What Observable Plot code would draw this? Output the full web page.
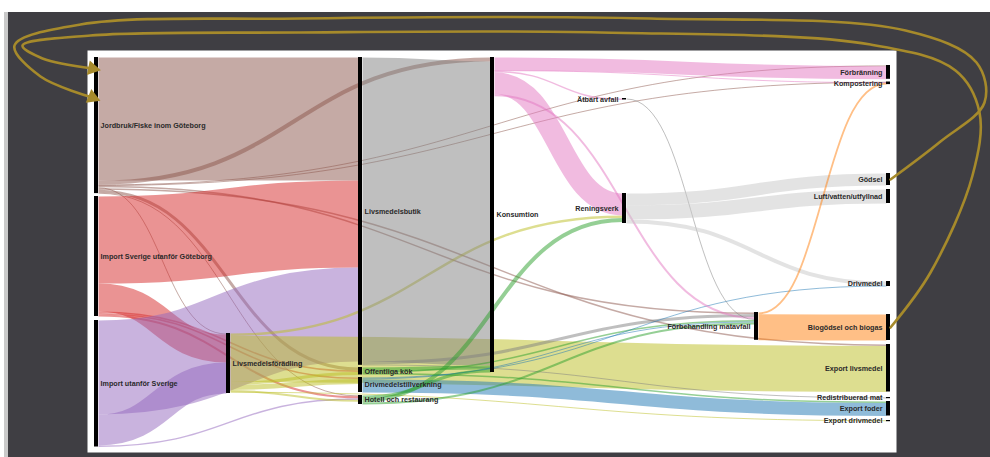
<!DOCTYPE html>
<html><head><meta charset="utf-8">
<script src="https://cdn.jsdelivr.net/npm/d3@7"></script>
<script src="https://cdn.jsdelivr.net/npm/@observablehq/plot@0.6"></script>
<style>
html,body{margin:0;padding:0;background:#fff}
#chart svg{display:block}
</style></head><body><div id="chart"></div>
<script>
// ---------- DATA ----------
const nodeNames = ["Jordbruk/Fiske inom Göteborg","Import Sverige utanför Göteborg","Import utanför Sverige",
  "Livsmedelsförädling","Livsmedelsbutik","Offentliga kök","Drivmedelstillverkning","Hotell och restaurang",
  "Konsumtion","Ätbart avfall","Reningsverk","Förbehandling matavfall","Förbränning","Kompostering","Gödsel",
  "Luft/vatten/utfyllnad","Drivmedel","Biogödsel och biogas","Export livsmedel","Redistribuerad mat","Export foder","Export drivmedel"];
const nodeColumns = [0,0,0,1,2,2,2,2,3,4,4,5,6,6,6,6,6,6,6,6,6,6];
// layout: vertical offset of each node's top, in flow units
const nodeTops = [7,146,270,283,7,317,327,345,7,48,143,262,15,31.5,123,139,231,264,294,347,351,370];
const nodeColors = ["#8c564b","#d62728","#9467bd","#bcbd22","#7f7f7f","#2ca02c","#1f77b4","#2ca02c",
  "#e377c2","#7f7f7f","#c7c7c7","#ff7f0e","#17becf","#17becf","#17becf","#17becf","#17becf","#17becf","#17becf","#17becf","#17becf","#17becf"];

const linkSources = [
  "Jordbruk/Fiske inom Göteborg","Jordbruk/Fiske inom Göteborg","Jordbruk/Fiske inom Göteborg","Jordbruk/Fiske inom Göteborg",
  "Jordbruk/Fiske inom Göteborg","Jordbruk/Fiske inom Göteborg","Jordbruk/Fiske inom Göteborg","Jordbruk/Fiske inom Göteborg","Jordbruk/Fiske inom Göteborg",
  "Import Sverige utanför Göteborg","Import Sverige utanför Göteborg","Import Sverige utanför Göteborg","Import Sverige utanför Göteborg","Import Sverige utanför Göteborg",
  "Import utanför Sverige","Import utanför Sverige","Import utanför Sverige",
  "Livsmedelsförädling","Livsmedelsförädling","Livsmedelsförädling","Livsmedelsförädling","Livsmedelsförädling","Livsmedelsförädling",
  "Livsmedelsbutik","Livsmedelsbutik","Livsmedelsbutik",
  "Offentliga kök","Offentliga kök","Offentliga kök",
  "Drivmedelstillverkning","Drivmedelstillverkning","Drivmedelstillverkning",
  "Hotell och restaurang","Hotell och restaurang","Hotell och restaurang",
  "Konsumtion","Konsumtion","Konsumtion","Konsumtion","Konsumtion",
  "Ätbart avfall",
  "Reningsverk","Reningsverk","Reningsverk",
  "Förbehandling matavfall","Förbehandling matavfall"];
const linkTargets = [
  "Livsmedelsbutik","Konsumtion","Förbränning","Kompostering","Förbehandling matavfall","Livsmedelsförädling","Export livsmedel","Offentliga kök","Hotell och restaurang",
  "Livsmedelsbutik","Livsmedelsförädling","Offentliga kök","Drivmedelstillverkning","Hotell och restaurang",
  "Livsmedelsbutik","Livsmedelsförädling","Hotell och restaurang",
  "Reningsverk","Export livsmedel","Offentliga kök","Drivmedelstillverkning","Hotell och restaurang","Export drivmedel",
  "Konsumtion","Förbehandling matavfall","Redistribuerad mat",
  "Konsumtion","Förbehandling matavfall","Export foder",
  "Drivmedel","Förbehandling matavfall","Export foder",
  "Konsumtion","Reningsverk","Förbehandling matavfall",
  "Förbränning","Kompostering","Ätbart avfall","Reningsverk","Förbehandling matavfall",
  "Förbehandling matavfall",
  "Gödsel","Luft/vatten/utfyllnad","Drivmedel",
  "Kompostering","Biogödsel och biogas"];
const linkValues = [
  123,4,0.8,0.5,1.5,1,1.5,3,0.8,
  87,28,1.5,1.5,2,
  94,31,1.5,
  2.5,46,3,5,2,0.5,
  304,3,0.8,
  4,1.5,1.5,
  1,1,13,
  3,4,2,
  13,0.3,1.5,22,2,
  1,
  12,14,4,
  1.8,26];
// feedback flows drawn as arrows back to the start
const feedbackSources = ["Gödsel","Biogödsel och biogas"];
const feedbackTargets = ["Jordbruk/Fiske inom Göteborg","Jordbruk/Fiske inom Göteborg"];

// ---------- LAYOUT (sankey-style link stacking) ----------
const nodes = nodeNames.map((name,i)=>({name,i,col:nodeColumns[i],top:nodeTops[i],color:nodeColors[i],ins:[],outs:[]}));
const byName = new Map(nodes.map(n=>[n.name,n]));
const links = linkValues.map((v,i)=>({i,value:v,source:byName.get(linkSources[i]),target:byName.get(linkTargets[i])}));
links.forEach(l=>{l.source.outs.push(l);l.target.ins.push(l);});
nodes.forEach(n=>{
  const vin=d3.sum(n.ins,l=>l.value), vout=d3.sum(n.outs,l=>l.value);
  n.value=Math.max(vin,vout);
  n.outs.sort((a,b)=>(a.target.top-b.target.top)||(a.i-b.i));
  n.ins.sort((a,b)=>(a.source.top-b.source.top)||(a.i-b.i));
  let y=n.top; n.outs.forEach(l=>{l.sy=y+l.value/2;y+=l.value;});
  y=n.top; n.ins.forEach(l=>{l.ty=y+l.value/2;y+=l.value;});
});

const W=990,H=457;
const colPx=[96,888], yPx=[50,452], yDom=[0,402];
const pxPerCol=(colPx[1]-colPx[0])/6, pxPerUnit=(yPx[1]-yPx[0])/(yDom[1]-yDom[0]);
const half=2/pxPerCol; // half bar width in column units
const gold="#a68a2b";

// feedback arrow routes (px waypoints, anchored at the start and end nodes)
function route(src,tgt,k){
  const sx=colPx[0]+src.col*pxPerCol+2, sy=yPx[0]+(src.top+src.value/2)*pxPerUnit;
  const ex=colPx[0]+tgt.col*pxPerCol-4, ey=yPx[0]+(tgt.top+(k===0?40:11))*pxPerUnit;
  const pts = k===0 ? [
    [sx,sy],[sx+50,sy-38],[984,102],[976,62],[905,30],[650,18],[300,18],[80,24],[14,45],[40,76],[ex,ey]
  ] : [
    [sx,sy],[sx+40,sy-55],[972,175],[979,112],[955,70],[870,44],[600,32],[300,32],[90,35],[22,45],[42,58],[ex,ey]
  ];
  return pts.map(([x,y],j)=>({k,j,x:(x-colPx[0])/pxPerCol,y:(y-yPx[0])/pxPerUnit,px:x,py:y}));
}
const loops=feedbackSources.map((s,k)=>route(byName.get(s),byName.get(feedbackTargets[k]),k));
const loopPts=loops.flat();
const heads=loops.map(p=>{const a=p[p.length-2],b=p[p.length-1];
  const ang=Math.atan2(b.py-a.py,b.px-a.px)*180/Math.PI; return {x:b.x,y:b.y,rot:90+ang};});

const font="'Liberation Sans', Arial, sans-serif";
const leftNodes=nodes.filter(n=>n.col<=3), rightNodes=nodes.filter(n=>n.col>3);

const chart=Plot.plot({
  width:W,height:H,
  marginLeft:87,marginRight:94,marginTop:50,marginBottom:5,
  x:{domain:[0,6],range:colPx,axis:null},
  y:{domain:yDom,range:yPx,axis:null},
  style:{fontFamily:font,overflow:"visible"},
  marks:[
    Plot.frame({fill:"white",stroke:null}),
    Plot.link(links,{x1:d=>d.source.col+half,y1:d=>d.sy,x2:d=>d.target.col-half,y2:d=>d.ty,
      curve:"bump-x",stroke:d=>d.source.color,strokeOpacity:0.5,
      strokeWidth:d=>Math.max(1,d.value*pxPerUnit)}),
    Plot.rect(nodes,{x1:d=>d.col-half,x2:d=>d.col+half,y1:d=>d.top,y2:d=>d.top+Math.max(d.value,1.2/pxPerUnit),fill:"black"}),
    Plot.text(leftNodes,{x:"col",y:d=>d.top+d.value/2,text:"name",textAnchor:"start",dx:4,fontSize:7.2,fontWeight:"bold",fill:"#2a2a2a"}),
    Plot.text(rightNodes,{x:"col",y:d=>d.top+d.value/2,text:"name",textAnchor:"end",dx:-6,fontSize:7.2,fontWeight:"bold",fill:"#2a2a2a"}),
    Plot.line(loopPts,{x:"x",y:"y",z:"k",curve:"catmull-rom",stroke:gold,strokeWidth:2.6}),
    Plot.dot(heads,{x:"x",y:"y",rotate:"rot",symbol:"triangle",r:5.5,fill:gold,stroke:null})
  ]
});
chart.style.background="linear-gradient(#fff 0 12px, transparent 12px), linear-gradient(90deg, #fff 0 4px, #c9c9c9 4px 8px, #3f3e43 8px)";
document.getElementById("chart").append(chart);
</script></body></html>
